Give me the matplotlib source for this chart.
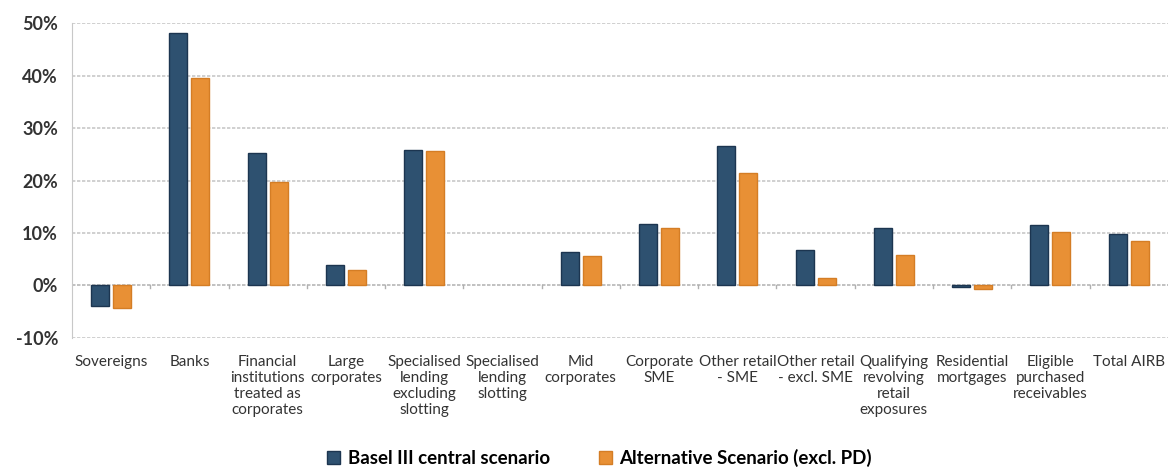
import numpy as np
import matplotlib
matplotlib.use("Agg")
import matplotlib.pyplot as plt
from matplotlib.ticker import PercentFormatter

# Datos (en %)
categorias = [
    "Sovereigns", "Banks", "Financial\ninstitutions\ntreated as\ncorporates",
    "Large\ncorporates", "Specialised\nlending\nexcluding\nslotting",
    "Specialised\nlending\nslotting", "Mid\ncorporates", "Corporate\nSME",
    "Other retail\n- SME", "Other retail\n- excl. SME", "Qualifying\nrevolving\nretail\nexposures",
    "Residential\nmortgages", "Eligible\npurchased\nreceivables", "Total AIRB",
]
basel_central = [-3.9, 48.1, 25.2, 3.9, 25.9, 0.0, 6.4, 11.7, 26.6, 6.7, 11.0, -0.3, 11.6, 9.9]
alternativo = [-4.3, 39.6, 19.8, 2.9, 25.7, 0.0, 5.6, 11.0, 21.4, 1.5, 5.9, -0.7, 10.1, 8.5]
serie_nombres = ["Basel III central scenario", "Alternative Scenario (excl. PD)"]

plt.rcParams['font.family'] = ['Lato', 'DejaVu Sans']
plt.rcParams['axes.unicode_minus'] = False

fig = plt.figure(figsize=(11.69, 4.72), dpi=100)
ax = fig.add_axes([0.0616, 0.284, 0.9374, 0.667])

x = np.arange(len(categorias))
ancho = 0.23
sep = 0.14

# sin borde en las barras de valor 0
lw_b = [0 if v == 0 else 1 for v in basel_central]
lw_a = [0 if v == 0 else 1 for v in alternativo]

ax.bar(x - sep, basel_central, ancho, color="#2E5170", edgecolor="#1C3550",
       linewidth=lw_b, label=serie_nombres[0], zorder=3)
ax.bar(x + sep, alternativo, ancho, color="#E89035", edgecolor="#D47D25",
       linewidth=lw_a, label=serie_nombres[1], zorder=3)

ax.set_xlim(-0.5, len(categorias) - 0.5)
ax.set_ylim(-10, 50)
ax.set_yticks(np.arange(-10, 51, 10))
ax.yaxis.set_major_formatter(PercentFormatter(decimals=0))
for lbl in ax.get_yticklabels():
    lbl.set_fontweight("bold")
    lbl.set_fontsize(13)
    lbl.set_color("#333333")
ax.tick_params(axis="y", length=0, pad=10)

ax.grid(axis="y", color="#C8C8C8", linestyle=(0, (2, 1)), linewidth=1.2, zorder=0)
ax.axhline(0, color="#C0C0C0", linestyle=(0, (2, 1)), linewidth=1.2, zorder=2)

# marcas pequeñas en los límites de categoría sobre la línea del 0
bordes = np.arange(len(categorias) + 1) - 0.5
for b in bordes[1:-1]:
    ax.plot([b, b], [0, -0.5], color="#B0B0B0", linewidth=1, zorder=2)

ax.set_xticks(x)
ax.set_xticklabels(categorias, fontsize=11, color="#333333", linespacing=1.2, va="top")
ax.tick_params(axis="x", length=0, pad=12)

for s in ["top", "right", "bottom"]:
    ax.spines[s].set_visible(False)
ax.spines["left"].set_color("#C8C8C8")
ax.spines["left"].set_linestyle((0, (2, 1)))

fig.legend(loc="lower center", bbox_to_anchor=(0.513, -0.025), ncol=2, frameon=False,
           handlelength=0.7, handleheight=0.7, handletextpad=0.4, columnspacing=2.6,
           prop={"weight": "bold", "size": 13.5})

fig.savefig("out.png", dpi=100)
